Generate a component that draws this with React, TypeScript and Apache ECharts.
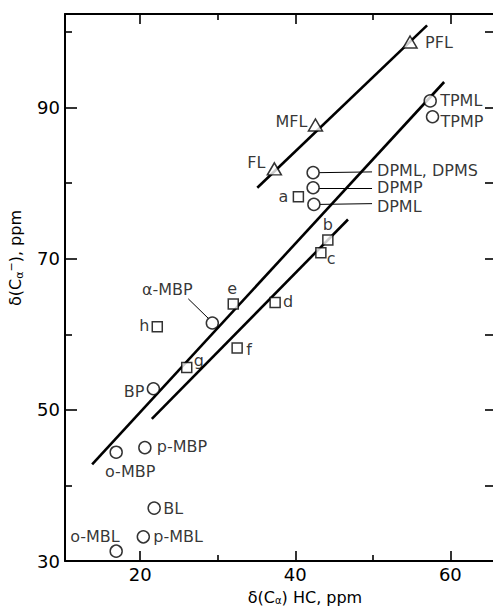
import React, { useEffect, useRef } from "react";
import * as echarts from "echarts";

// Axis ranges and ticks
const xMin = 10.3;
const xMax = 65.5;
const yMin = 30;
const yMax = 102.4;
const xMajorTicks = [20, 40, 60];
const xMinorTicks = [30, 50];
const yMajorTicks = [30, 50, 70, 90];
const yMinorTicks = [40, 60, 80, 100];
const yRightTicks = [30, 40, 50, 60, 70, 80, 90, 100];

// Fluorenyl compounds (triangles)
const triNames = ["PFL", "MFL", "FL"];
const triX = [54.8, 42.6, 37.3];
const triY = [98.7, 87.7, 81.9];

// Benzyl / diphenylmethyl compounds (circles)
const circNames = [
  "TPML", "TPMP", "DPML, DPMS", "DPMP", "DPML", "α-MBP",
  "BP", "o-MBP", "p-MBP", "BL", "o-MBL", "p-MBL",
];
const circX = [57.4, 57.7, 42.3, 42.3, 42.4, 29.3, 21.7, 16.9, 20.6, 21.8, 16.9, 20.4];
const circY = [90.9, 88.8, 81.4, 79.4, 77.2, 61.5, 52.8, 44.4, 45.0, 37.0, 31.3, 33.2];

// Lettered compounds (squares)
const sqNames = ["a", "b", "c", "d", "e", "f", "g", "h"];
const sqX = [40.4, 44.2, 43.3, 37.4, 32.0, 32.5, 26.0, 22.2];
const sqY = [78.2, 72.5, 70.8, 64.2, 64.0, 58.2, 55.6, 61.0];

// Correlation lines (end points)
const fitUpperX = [35.1, 57.0];
const fitUpperY = [79.4, 100.9];
const fitMiddleX = [13.8, 59.2];
const fitMiddleY = [42.8, 93.4];
const fitLowerX = [21.5, 46.8];
const fitLowerY = [48.8, 75.2];

// Leader lines from labels to their points
const leaders = [
  [[43.1, 81.4], [49.9, 81.5]],
  [[43.1, 79.4], [49.9, 79.4]],
  [[43.2, 77.2], [49.9, 77.3]],
  [[26.2, 64.7], [28.8, 62.1]],
];

// Label placement relative to each marker (pixels)
const labelPlace: Record<string, [string, number, number]> = {
  PFL: ["left", 15, 1],
  MFL: ["right", -8, -4],
  FL: ["right", -9, -6],
  TPML: ["left", 10, 0],
  TPMP: ["left", 8, 5],
  "DPML, DPMS": ["left", 64, -2],
  DPMP: ["left", 64, 0],
  DPML: ["left", 63, 2],
  "α-MBP": ["center", -45, -34],
  BP: ["right", -9, 3],
  "o-MBP": ["center", 14, 19],
  "p-MBP": ["left", 12, -1],
  BL: ["left", 9, 0],
  "o-MBL": ["left", -46, -15],
  "p-MBL": ["left", 10, 0],
  a: ["right", -10, 0],
  b: ["center", 0, -15],
  c: ["left", 6, 6],
  d: ["left", 8, -1],
  e: ["center", -1, -16],
  f: ["left", 9, 2],
  g: ["left", 7, -7],
  h: ["right", -8, -1],
};

const FONT = "DejaVu Sans";
const INK = "#000";

function pointData(names: string[], xs: number[], ys: number[]) {
  return names.map((n, i) => {
    const p = labelPlace[n] || ["left", 8, 0];
    return {
      name: n,
      value: [xs[i], ys[i]],
      label: {
        show: true,
        formatter: n,
        position: "inside",
        align: p[0],
        verticalAlign: "middle",
        offset: [p[1], p[2]],
        fontFamily: FONT,
        fontSize: 16,
        color: INK,
      },
    };
  });
}

function fitSeries(xs: number[], ys: number[]) {
  return {
    type: "line",
    data: xs.map((x, i) => [x, ys[i]]),
    showSymbol: false,
    symbol: "none",
    lineStyle: { color: INK, width: 2.6 },
    z: 2,
    silent: true,
  };
}

function xAxisDef(position: string, ticks: number[], len: number, labels: boolean, line: boolean) {
  return {
    type: "value",
    position,
    min: xMin,
    max: xMax,
    axisLine: { show: line, onZero: false, lineStyle: { color: INK, width: 1.8 } },
    axisTick: { show: true, inside: true, length: len, customValues: ticks, lineStyle: { color: INK, width: 1.6 } },
    axisLabel: {
      show: labels,
      customValues: ticks,
      fontFamily: FONT,
      fontSize: 18,
      color: INK,
      margin: 4,
    },
    splitLine: { show: false },
  };
}

function yAxisDef(position: string, ticks: number[], len: number, labels: boolean, line: boolean) {
  return {
    type: "value",
    position,
    min: yMin,
    max: yMax,
    axisLine: { show: line, onZero: false, lineStyle: { color: INK, width: 2 } },
    axisTick: { show: true, inside: true, length: len, customValues: ticks, lineStyle: { color: INK, width: 1.6 } },
    axisLabel: {
      show: labels,
      customValues: ticks,
      fontFamily: FONT,
      fontSize: 18,
      color: INK,
      margin: 5,
    },
    splitLine: { show: false },
  };
}

export default function App() {
  const ref = useRef<HTMLDivElement>(null);

  useEffect(() => {
    if (!ref.current) return;
    const chart = echarts.init(ref.current, undefined, { renderer: "svg" });
    const markerStyle = { color: "#fff", borderColor: INK, borderWidth: 1.5 };

    chart.setOption({
      animation: false,
      backgroundColor: "#fff",
      grid: { left: 65, right: 0, top: 14, bottom: 48 },
      xAxis: [
        xAxisDef("bottom", xMajorTicks, 10, true, true),
        xAxisDef("bottom", xMinorTicks, 6, false, false),
        xAxisDef("top", xMajorTicks, 10, false, true),
        xAxisDef("top", xMinorTicks, 6, false, false),
      ],
      yAxis: [
        yAxisDef("left", yMajorTicks, 12, true, true),
        yAxisDef("left", yMinorTicks, 7, false, false),
        yAxisDef("right", yRightTicks, 8, false, false),
      ],
      graphic: [
        {
          type: "text",
          x: 305,
          y: 597,
          style: {
            text: "δ(C{sub|α}) HC, ppm",
            font: `16px '${FONT}'`,
            fill: INK,
            align: "center",
            verticalAlign: "middle",
            rich: {
              sub: { fontSize: 10, fontFamily: FONT, fill: INK, padding: [6, 0, 0, 0] },
            },
          },
        },
        {
          type: "text",
          x: 15,
          y: 258,
          rotation: Math.PI / 2,
          style: {
            text: "δ(C{sub|α}{sup|−}), ppm",
            font: `16px '${FONT}'`,
            fill: INK,
            align: "center",
            verticalAlign: "middle",
            rich: {
              sub: { fontSize: 11, fontFamily: FONT, fill: INK, padding: [8, 0, 0, 0] },
              sup: { fontSize: 11, fontFamily: FONT, fill: INK, padding: [0, 0, 8, 0] },
            },
          },
        },
      ],
      series: [
        fitSeries(fitUpperX, fitUpperY),
        fitSeries(fitMiddleX, fitMiddleY),
        fitSeries(fitLowerX, fitLowerY),
        {
          type: "lines",
          coordinateSystem: "cartesian2d",
          data: leaders.map((c) => ({ coords: c })),
          lineStyle: { color: INK, width: 1, opacity: 1 },
          z: 2,
          silent: true,
        },
        {
          type: "scatter",
          symbol: "triangle",
          symbolSize: [14, 12],
          itemStyle: markerStyle,
          data: pointData(triNames, triX, triY),
          z: 3,
        },
        {
          type: "scatter",
          symbol: "circle",
          symbolSize: 12,
          itemStyle: markerStyle,
          data: pointData(circNames, circX, circY),
          z: 3,
        },
        {
          type: "scatter",
          symbol: "rect",
          symbolSize: 10,
          itemStyle: markerStyle,
          data: pointData(sqNames, sqX, sqY),
          z: 3,
        },
      ],
    });

    return () => chart.dispose();
  }, []);

  return (
    <div
      ref={ref}
      style={{ position: "absolute", left: 0, top: 0, width: 493, height: 609, background: "#fff" }}
    />
  );
}
